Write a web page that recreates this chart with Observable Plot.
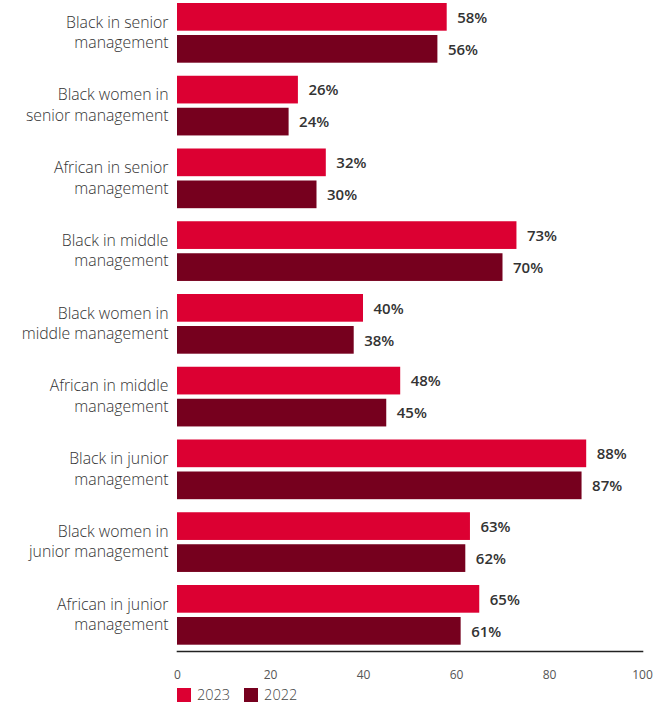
<!DOCTYPE html>
<html>
<head>
<meta charset="utf-8">
<script src="https://cdn.jsdelivr.net/npm/d3@7"></script>
<script src="https://cdn.jsdelivr.net/npm/@observablehq/plot@0.6"></script>
<style>
  html, body { margin: 0; padding: 0; background: #fff; }
  #chart { width: 671px; }
  .legend { display: flex; align-items: center; height: 14px; line-height: 14px; margin-top: 4px; margin-left: 177px;
            font-family: "Open Sans", sans-serif; font-size: 14.5px; font-weight: 300; color: #444; }
  .legend .sw { width: 14px; height: 14px; display: inline-block; margin-right: 6px; }
  .legend .item { display: flex; align-items: center; margin-right: 14px; line-height: 14px; }
</style>
</head>
<body>
<div id="chart"></div>
<script>
const groups = [
  "Black in senior management",
  "Black women in senior management",
  "African in senior management",
  "Black in middle management",
  "Black women in middle management",
  "African in middle management",
  "Black in junior management",
  "Black women in junior management",
  "African in junior management"
];
const groupLabels = [
  "Black in senior\nmanagement",
  "Black women in\nsenior management",
  "African in senior\nmanagement",
  "Black in middle\nmanagement",
  "Black women in\nmiddle management",
  "African in middle\nmanagement",
  "Black in junior\nmanagement",
  "Black women in\njunior management",
  "African in junior\nmanagement"
];
const values2023 = [58, 26, 32, 73, 40, 48, 88, 63, 65];
const values2022 = [56, 24, 30, 70, 38, 45, 87, 62, 61];
const years = ["2023", "2022"];
const colors = ["#dc0032", "#76001e"];
const xTicks = [0, 20, 40, 60, 80, 100];

const rows23 = groups.map((g, i) => ({group: g, year: "2023", value: values2023[i]}));
const rows22 = groups.map((g, i) => ({group: g, year: "2022", value: values2022[i]}));
const labelOf = new Map(groups.map((g, i) => [g, groupLabels[i]]));

const H = 684;
const plot = Plot.plot({
  width: 671,
  height: H,
  marginLeft: 177,
  marginRight: 29,
  marginTop: 3,
  marginBottom: H - 651,
  style: {fontFamily: "'Open Sans', sans-serif", fontSize: "15px", background: "#fff"},
  x: {domain: [0, 100], range: [177, 642]},
  y: {domain: groups, range: [3, 644.7], paddingInner: 0.1794, paddingOuter: 0, round: false, axis: null},
  color: {domain: years, range: colors},
  marks: [
    Plot.barX(rows23, {x: "value", y: "group", fill: "year", insetBottom: 32}),
    Plot.barX(rows22, {x: "value", y: "group", fill: "year", insetTop: 32}),
    Plot.text(rows23, {x: "value", y: "group", text: d => d.value + "%", textAnchor: "start", dx: 10, dy: -15.5,
      fontWeight: 600, fontSize: 15, fill: "#333"}),
    Plot.text(rows22, {x: "value", y: "group", text: d => d.value + "%", textAnchor: "start", dx: 10, dy: 16.5,
      fontWeight: 600, fontSize: 15, fill: "#333"}),
    Plot.axisY({tickSize: 0, tickPadding: 9, tickFormat: d => labelOf.get(d), fontSize: 15.8, fontWeight: 300,
      lineHeight: 1.3, dy: -2, fill: "#333", label: null}),
    Plot.axisX({ticks: xTicks, tickSize: 0, tickPadding: 19, fontSize: 12, fill: "#555", label: null}),
    Plot.frame({anchor: "bottom", stroke: "#222", strokeWidth: 1.6})
  ]
});
document.getElementById("chart").appendChild(plot);

const legend = document.createElement("div");
legend.className = "legend";
years.forEach((y, i) => {
  const item = document.createElement("span");
  item.className = "item";
  const sw = document.createElement("span");
  sw.className = "sw";
  sw.style.background = colors[i];
  item.appendChild(sw);
  item.appendChild(document.createTextNode(y));
  legend.appendChild(item);
});
document.getElementById("chart").appendChild(legend);
</script>
</body>
</html>
